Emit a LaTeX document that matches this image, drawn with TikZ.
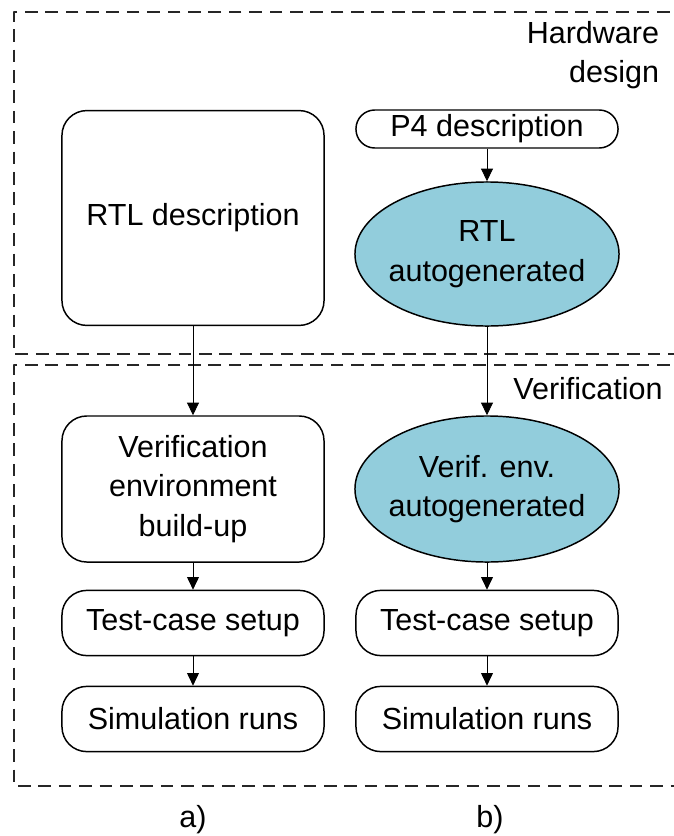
\documentclass[tikz,border=0pt]{standalone}
\usepackage{fontspec}
\setmainfont{Liberation Sans}
\usetikzlibrary{arrows.meta,shapes.geometric}
\definecolor{aqua}{HTML}{92CDDC}

\begin{document}
\begin{tikzpicture}[x=0.025cm, y=-0.025cm, line join=round,
    font=\fontsize{21.7}{28}\selectfont,
    flowbox/.style={draw, line width=1.05pt, rounded corners=0.62cm, align=center,
        inner sep=0pt, minimum width=6.55cm},
    genellipse/.style={draw, ellipse, line width=1.05pt, fill=aqua, align=center,
        inner xsep=-6pt, inner ysep=0pt, minimum width=6.6cm},
    arr/.style={-{Triangle[length=9pt,width=8.5pt]}, line width=0.6pt},
    region/.style={dashed, dash pattern=on 9pt off 5.5pt, line width=0.9pt, gray!30!black}]
    % marco 674 x 836 px
    \useasboundingbox (0,0) rectangle (674,836);
    % zonas
    \draw[region] (690,12) -- (14,12) -- (14,354) -- (690,354);
    \draw[region] (690,365) -- (14,365) -- (14,786) -- (690,786);
    \node[anchor=east, align=right] (hwlabel) at (664,55) {Hardware\\design};
    \node (verlabel) at (588,389) {Verification};
    % columna a)
    \node[flowbox, minimum height=5.37cm] (rtl) at (193,218) {RTL description};
    \node[flowbox, minimum height=3.65cm] (envbuild) at (193,489) {Verification\\environment\\build-up};
    \node[flowbox, minimum height=1.63cm] (testa) at (193,623) {Test-case setup};
    \node[flowbox, minimum height=1.63cm] (sima) at (193,719) {Simulation runs};
    % columna b)
    \node[flowbox, rounded corners=0.47cm, minimum height=0.95cm] (ptf) at (487,129) {P4 description};
    \node[genellipse, minimum height=3.6cm] (rtlgen) at (487,254) {RTL\\autogenerated};
    \node[genellipse, minimum height=3.65cm] (envgen) at (487,489) {Verif. env.\\autogenerated};
    \node[flowbox, minimum height=1.63cm] (testb) at (487,623) {Test-case setup};
    \node[flowbox, minimum height=1.63cm] (simb) at (487,719) {Simulation runs};
    % flechas
    \draw[arr] (rtl) -- (envbuild);
    \draw[arr] (envbuild) -- (testa);
    \draw[arr] (testa) -- (sima);
    \draw[arr] (ptf) -- (rtlgen);
    \draw[arr] (rtlgen) -- (envgen);
    \draw[arr] (envgen) -- (testb);
    \draw[arr] (testb) -- (simb);
    % etiquetas
    \node (capa) at (193,820) {a)};
    \node (capb) at (490,820) {b)};
\end{tikzpicture}
\end{document}
